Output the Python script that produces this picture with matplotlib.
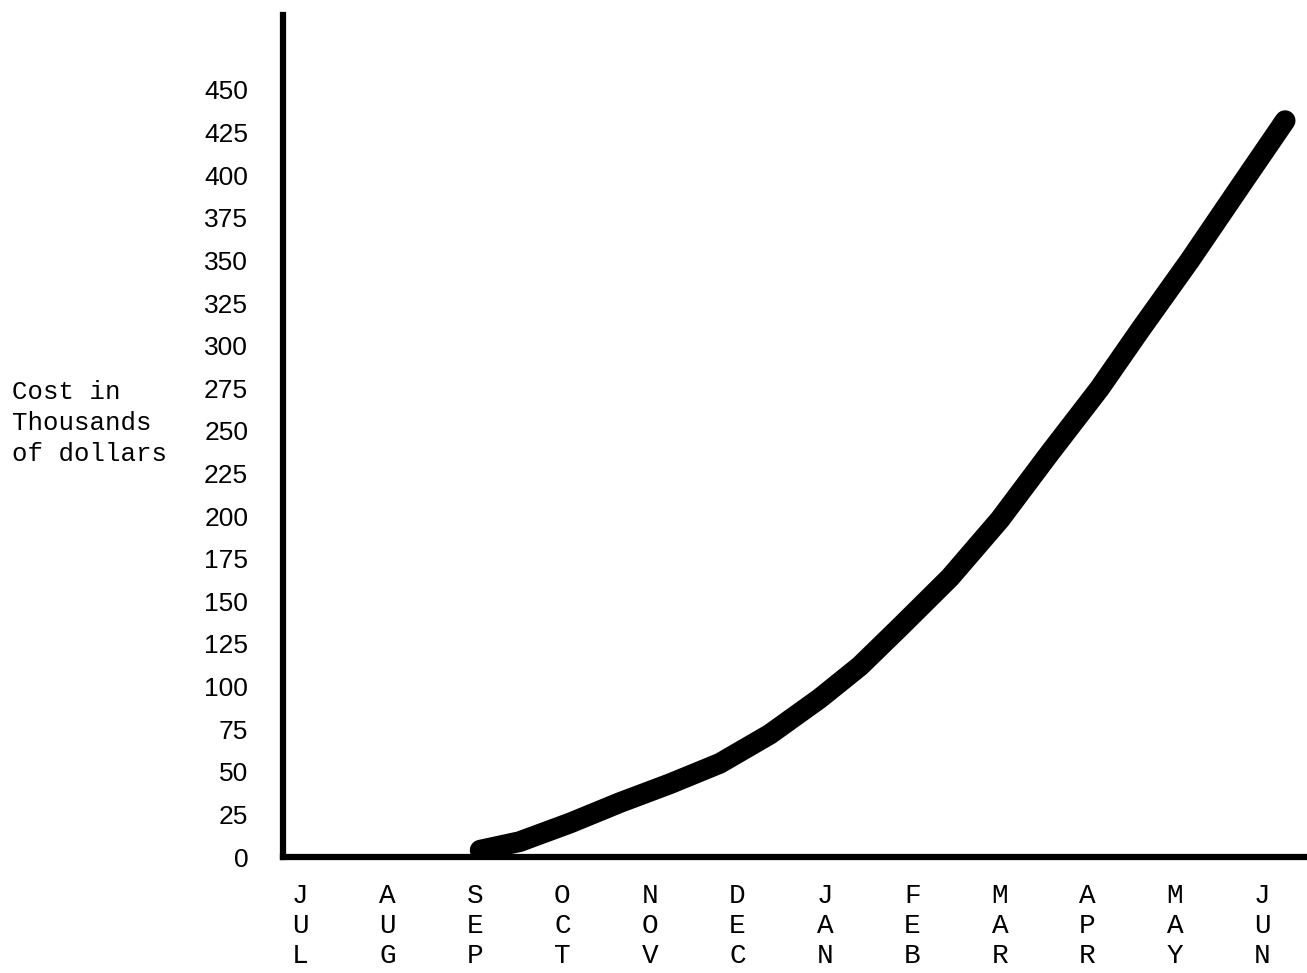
import numpy as np
import matplotlib
matplotlib.use("Agg")
import matplotlib.pyplot as plt

# months along the bottom, each written as a column of letters
months = ["JUL", "AUG", "SEP", "OCT", "NOV", "DEC",
          "JAN", "FEB", "MAR", "APR", "MAY", "JUN"]
y_ticks = [0, 25, 50, 75, 100, 125, 150, 175, 200, 225,
           250, 275, 300, 325, 350, 375, 400, 425, 450]

# hand drawn cost curve (x in month index, y in $1000)
curve_month = [2.06, 2.51, 3.09, 3.66, 4.23, 4.80, 5.37, 5.94, 6.40,
               6.86, 7.43, 8.00, 8.57, 9.14, 9.60, 10.17, 10.74, 11.26]
curve_cost = [4, 9, 20, 32, 43, 55, 72, 93, 112,
              135, 164, 198, 237, 275, 309, 350, 393, 432]

fig = plt.figure(figsize=(13.07, 9.73), dpi=100)
ax = fig.add_axes([0.2165, 0.1192, 0.7835, 0.8654])

ax.plot(curve_month, curve_cost, color="black", lw=15,
        solid_capstyle="round", solid_joinstyle="round")

ax.set_xlim(-0.194, 11.51)
ax.set_ylim(0, 494)

ax.set_yticks(y_ticks)
ax.set_yticklabels([str(v) for v in y_ticks], family="Liberation Sans",
                   fontsize=19)
ax.set_xticks(range(len(months)))
ax.set_xticklabels(["\n".join(m) for m in months], family="Liberation Mono",
                   fontsize=20, linespacing=1.2)
ax.tick_params(axis="y", length=0, pad=25)
ax.tick_params(axis="x", length=0, pad=19)

for side in ["top", "right"]:
    ax.spines[side].set_visible(False)
for side in ["left", "bottom"]:
    ax.spines[side].set_linewidth(4.5)
    ax.spines[side].set_color("black")

fig.text(12 / 1307, 1 - 423 / 973, "Cost in\nThousands\nof dollars",
         family="Liberation Mono", fontsize=18.5, ha="left", va="center",
         linespacing=1.35)

fig.savefig("out.png", dpi=100, facecolor="white")
